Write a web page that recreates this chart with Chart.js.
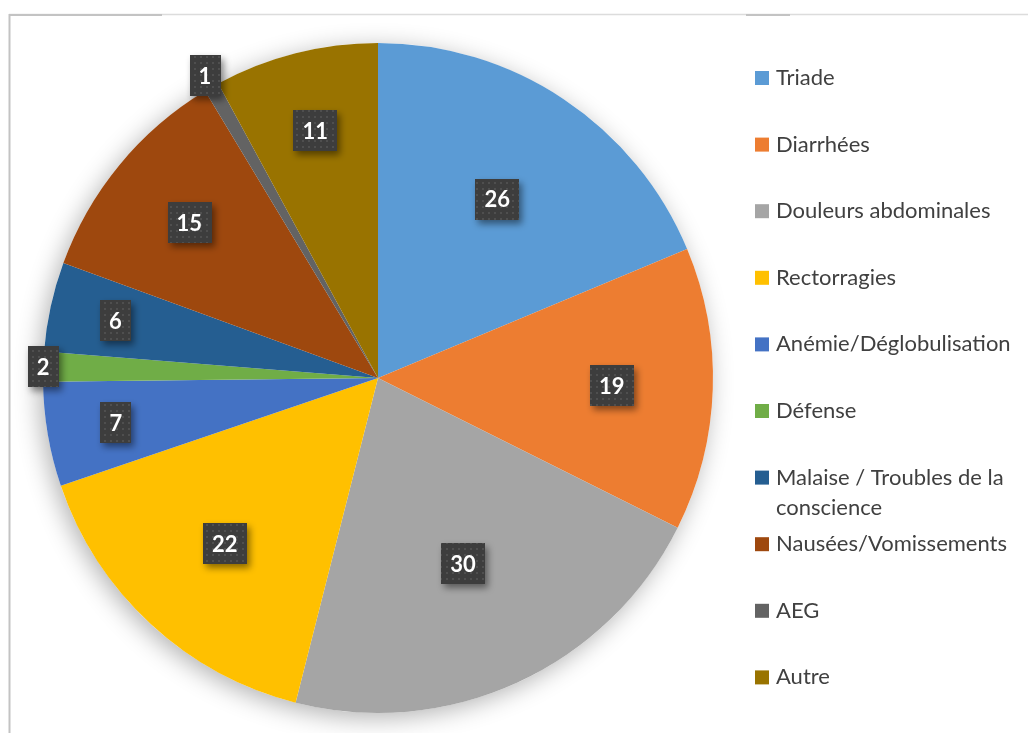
<!DOCTYPE html>
<html>
<head>
<meta charset="utf-8">
<script src="https://cdn.jsdelivr.net/npm/chart.js@4.4.1/dist/chart.umd.min.js"></script>
<style>
  html, body { margin: 0; padding: 0; background: #ffffff; }
  #wrap { width: 1028px; height: 733px; position: relative; }
</style>
</head>
<body>
<div id="wrap"><canvas id="c" width="1028" height="733"></canvas></div>
<script>
const categories = [
  "Triade",
  "Diarrhées",
  "Douleurs abdominales",
  "Rectorragies",
  "Anémie/Déglobulisation",
  "Défense",
  "Malaise / Troubles de la conscience",
  "Nausées/Vomissements",
  "AEG",
  "Autre"
];
const counts = [26, 19, 30, 22, 7, 2, 6, 15, 1, 11];
const sliceColors = [
  "#5B9BD5", "#ED7D31", "#A5A5A5", "#FFC000", "#4472C4",
  "#70AD47", "#255E91", "#9E480E", "#636363", "#997300"
];

const FONT = "Lato, 'Open Sans', 'DejaVu Sans', sans-serif";

// dotted dark pattern for the data label boxes
function makePattern(ctx) {
  const p = document.createElement('canvas');
  p.width = 6; p.height = 6;
  const pc = p.getContext('2d');
  pc.fillStyle = '#3d3d3d';
  pc.fillRect(0, 0, 6, 6);
  pc.fillStyle = '#4f4f4f';
  pc.fillRect(2, 2, 2, 2);
  return ctx.createPattern(p, 'repeat');
}

const framePlugin = {
  id: 'frame',
  beforeDraw(chart) {
    const ctx = chart.ctx;
    ctx.save();
    ctx.fillStyle = '#ffffff';
    ctx.fillRect(0, 0, chart.width, chart.height);
    ctx.strokeStyle = '#dcdcdc';
    ctx.lineWidth = 1.5;
    ctx.beginPath(); ctx.moveTo(9, 14.5); ctx.lineTo(chart.width, 14.5); ctx.stroke();
    ctx.strokeStyle = '#c3c3c3';
    ctx.lineWidth = 2;
    ctx.beginPath(); ctx.moveTo(9, 15); ctx.lineTo(162, 15); ctx.stroke();
    ctx.beginPath(); ctx.moveTo(746, 15); ctx.lineTo(790, 15); ctx.stroke();
    ctx.beginPath(); ctx.moveTo(9.5, 14); ctx.lineTo(9.5, chart.height); ctx.stroke();
    ctx.restore();
  }
};

const shadowPlugin = {
  id: 'pieShadow',
  beforeDatasetsDraw(chart) {
    const arc = chart.getDatasetMeta(0).data[0];
    if (!arc) return;
    const ctx = chart.ctx;
    ctx.save();
    ctx.shadowColor = 'rgba(0,0,0,0.30)';
    ctx.shadowBlur = 24;
    ctx.shadowOffsetX = -4;
    ctx.shadowOffsetY = 5;
    ctx.fillStyle = '#ffffff';
    ctx.beginPath();
    ctx.arc(arc.x, arc.y, arc.outerRadius, 0, Math.PI * 2);
    ctx.fill();
    ctx.restore();
  }
};

const labelPlugin = {
  id: 'boxLabels',
  afterDatasetsDraw(chart) {
    const ctx = chart.ctx;
    const meta = chart.getDatasetMeta(0);
    const vals = chart.data.datasets[0].data;
    const pat = makePattern(ctx);
    ctx.save();
    ctx.font = "bold 22px " + FONT;
    meta.data.forEach((arc, i) => {
      const v = vals[i];
      const mid = (arc.startAngle + arc.endAngle) / 2;
      const f = v <= 2 ? (1.08 - 0.04 * v) : (0.85 - 0.008 * v);
      const r = arc.outerRadius * f;
      const cx = arc.x + Math.cos(mid) * r;
      const cy = arc.y + Math.sin(mid) * r;
      const txt = String(v);
      const w = ctx.measureText(txt).width + 18;
      const h = 41;
      ctx.save();
      ctx.shadowColor = 'rgba(0,0,0,0.45)';
      ctx.shadowBlur = 7;
      ctx.shadowOffsetX = 3;
      ctx.shadowOffsetY = 4;
      ctx.fillStyle = pat;
      ctx.fillRect(Math.round(cx - w / 2), Math.round(cy - h / 2), Math.round(w), h);
      ctx.restore();
      ctx.fillStyle = '#ffffff';
      ctx.textAlign = 'center';
      ctx.textBaseline = 'middle';
      ctx.fillText(txt, cx, cy + 1);
    });
    ctx.restore();
  }
};

const legendPlugin = {
  id: 'sideLegend',
  afterDraw(chart) {
    const ctx = chart.ctx;
    const labels = chart.data.labels;
    const colors = chart.data.datasets[0].backgroundColor;
    ctx.save();
    ctx.font = "22px " + FONT;
    ctx.textBaseline = 'middle';
    ctx.textAlign = 'left';
    const x0 = 755, tx = 776, y0 = 78, step = 66.6, maxW = 245, lineH = 30;
    labels.forEach((lab, i) => {
      const y = y0 + i * step;
      ctx.fillStyle = colors[i];
      ctx.fillRect(x0, y - 7, 14, 14);
      ctx.fillStyle = '#404040';
      const words = lab.split(' ');
      let line = '', ly = y;
      words.forEach(wd => {
        const test = line ? line + ' ' + wd : wd;
        if (ctx.measureText(test).width > maxW && line) {
          ctx.fillText(line, tx, ly);
          line = wd; ly += lineH;
        } else line = test;
      });
      ctx.fillText(line, tx, ly);
    });
    ctx.restore();
  }
};

new Chart(document.getElementById('c'), {
  type: 'pie',
  data: {
    labels: categories,
    datasets: [{
      data: counts,
      backgroundColor: sliceColors,
      borderWidth: 0
    }]
  },
  options: {
    responsive: false,
    animation: false,
    layout: { padding: { top: 43, bottom: 20, left: 43, right: 315 } },
    plugins: {
      legend: { display: false },
      tooltip: { enabled: false },
      title: { display: false }
    }
  },
  plugins: [framePlugin, shadowPlugin, labelPlugin, legendPlugin]
});
</script>
</body>
</html>
